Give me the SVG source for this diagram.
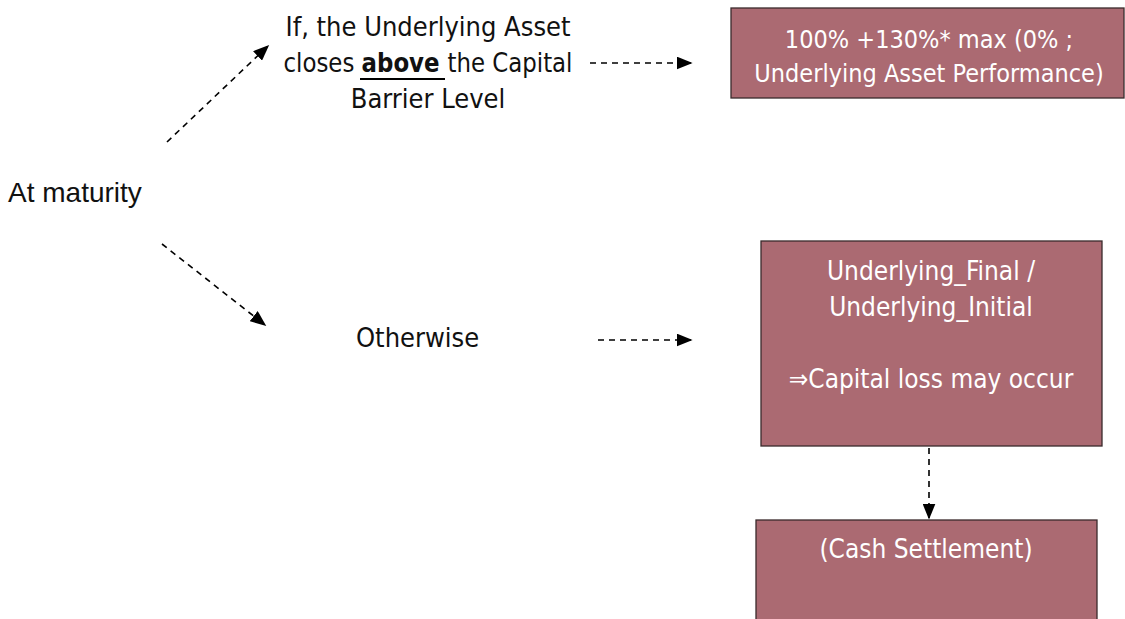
<svg xmlns="http://www.w3.org/2000/svg" width="1125" height="619" viewBox="0 0 1125 619">
<style>
.t{font-family:"Liberation Sans Narrow","DejaVu Sans Condensed","Liberation Sans",sans-serif;font-size:27px;fill:#111;}
.w{font-family:"Liberation Sans Narrow","DejaVu Sans Condensed","Liberation Sans",sans-serif;font-size:26px;fill:#fff;text-anchor:middle;}
.box{fill:#AB6A72;stroke:#3a2a2c;stroke-width:1.3;}
.c{stroke:#000;stroke-width:1.6;stroke-dasharray:6 5;fill:none;marker-end:url(#ah);}
</style>
<defs>
<marker id="ah" viewBox="0 0 10 10" refX="9" refY="5" markerWidth="16" markerHeight="13" markerUnits="userSpaceOnUse" orient="auto" preserveAspectRatio="none">
<path d="M0,0 L10,5 L0,10 z" fill="#000"/>
</marker>
</defs>
<rect width="1125" height="619" fill="#fff"/>
<g id="connectors">
<line class="c" x1="167" y1="142" x2="268" y2="46"/>
<line class="c" x1="162" y1="244" x2="265" y2="325"/>
<line class="c" x1="590" y1="63" x2="691" y2="63"/>
<line class="c" x1="598" y1="340" x2="691" y2="340"/>
<line class="c" x1="929" y1="437" x2="929" y2="518"/>
</g>
<g id="at-maturity"><text x="8" y="202" style="font-family:'Liberation Sans',sans-serif;font-size:28px;fill:#111">At maturity</text></g>
<g id="condition-above">
<text class="t" text-anchor="middle" x="428" y="36">If, the Underlying Asset</text>
<text class="t" text-anchor="middle" x="428" y="72" textLength="289" lengthAdjust="spacingAndGlyphs">closes <tspan font-weight="bold">above </tspan>the Capital</text>
<line x1="360" y1="79" x2="445" y2="79" stroke="#000" stroke-width="2"/>
<text class="t" text-anchor="middle" x="428" y="108">Barrier Level</text>
</g>
<g id="otherwise"><text class="t" x="356" y="347">Otherwise</text></g>
<g id="payoff-above">
<rect class="box" x="731" y="8" width="393" height="90"/>
<text class="w" x="929" y="48" style="font-size:25px">100% +130%* max (0% ;</text>
<text class="w" x="929" y="82" style="font-size:25px">Underlying Asset Performance)</text>
</g>
<g id="payoff-otherwise">
<rect class="box" x="761" y="241" width="341" height="205"/>
<text class="w" x="931" y="280">Underlying_Final /</text>
<text class="w" x="931" y="316">Underlying_Initial</text>
<text class="w" x="931" y="388">⇒Capital loss may occur</text>
</g>
<g id="settlement">
<rect class="box" x="756" y="520" width="341" height="110"/>
<text class="w" x="926" y="558">(Cash Settlement)</text>
</g>
</svg>
